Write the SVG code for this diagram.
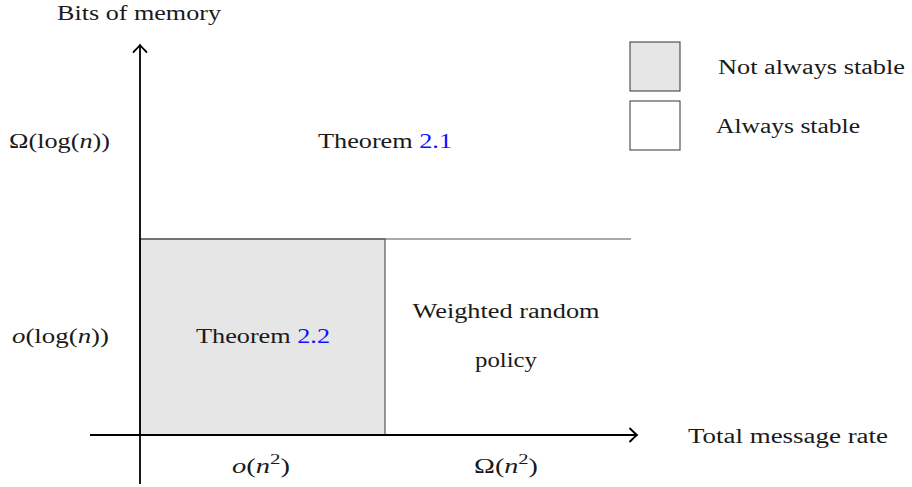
<svg xmlns="http://www.w3.org/2000/svg" width="912" height="487" viewBox="0 0 912 487">
<defs>
<style>
text{font-family:'Liberation Serif','DejaVu Serif',serif;font-size:20.5px;fill:#1a1a1a}
.i{font-style:italic}
.ref{fill:#1010ff}
.axis{stroke:#000;stroke-width:1.8;fill:none}
.reg{stroke:#555;stroke-width:1.2}
</style>
<marker id="arr" viewBox="-9 -8 11 16" markerWidth="11" markerHeight="16" refX="0" refY="0" orient="auto" markerUnits="userSpaceOnUse">
<path d="M-7,-6.5 Q-2,-1.5 0,0 Q-2,1.5 -7,6.5" fill="none" stroke="#000" stroke-width="1.8" stroke-linecap="round"/>
</marker>
</defs>
<g id="region-gray">
<rect x="140" y="239" width="245" height="196" fill="#e6e6e6" class="reg"/>
</g>
<g id="region-top">
<line x1="140" y1="239" x2="631" y2="239" class="reg"/>
<text x="385" y="148" text-anchor="middle" textLength="134" lengthAdjust="spacingAndGlyphs">Theorem <tspan class="ref">2.1</tspan></text>
</g>
<g id="region-gray-label">
<text x="263" y="343" text-anchor="middle" textLength="134" lengthAdjust="spacingAndGlyphs">Theorem <tspan class="ref">2.2</tspan></text>
</g>
<g id="region-right">
<text x="506" y="318" text-anchor="middle" textLength="187" lengthAdjust="spacingAndGlyphs">Weighted random</text>
<text x="506" y="367" text-anchor="middle" textLength="62" lengthAdjust="spacingAndGlyphs">policy</text>
</g>
<g id="connectors">
<line x1="140" y1="484" x2="140" y2="45" class="axis" marker-end="url(#arr)"/>
<line x1="90" y1="435" x2="637" y2="435" class="axis" marker-end="url(#arr)"/>
</g>
<g id="axis-labels">
<text x="139" y="20" text-anchor="middle" textLength="164" lengthAdjust="spacingAndGlyphs">Bits of memory</text>
<text x="688" y="443" textLength="200" lengthAdjust="spacingAndGlyphs">Total message rate</text>
<text x="9" y="148" textLength="101" lengthAdjust="spacingAndGlyphs">Ω(log(<tspan class="i">n</tspan>))</text>
<text x="12" y="343" textLength="97" lengthAdjust="spacingAndGlyphs"><tspan class="i">o</tspan>(log(<tspan class="i">n</tspan>))</text>
<text x="232" y="473" font-size="22" textLength="58" lengthAdjust="spacingAndGlyphs"><tspan class="i">o</tspan>(<tspan class="i">n</tspan><tspan font-size="15" dy="-9">2</tspan><tspan dy="9">)</tspan></text>
<text x="474" y="473" font-size="22" textLength="64" lengthAdjust="spacingAndGlyphs">Ω(<tspan class="i">n</tspan><tspan font-size="15" dy="-9">2</tspan><tspan dy="9">)</tspan></text>
</g>
<g id="legend-unstable">
<rect x="630" y="42" width="50" height="49" fill="#e6e6e6" stroke="#333" stroke-width="1"/>
<text x="718" y="74" textLength="187" lengthAdjust="spacingAndGlyphs">Not always stable</text>
</g>
<g id="legend-stable">
<rect x="630" y="101" width="50" height="49" fill="#fff" stroke="#333" stroke-width="1"/>
<text x="716" y="133" textLength="144" lengthAdjust="spacingAndGlyphs">Always stable</text>
</g>
</svg>
